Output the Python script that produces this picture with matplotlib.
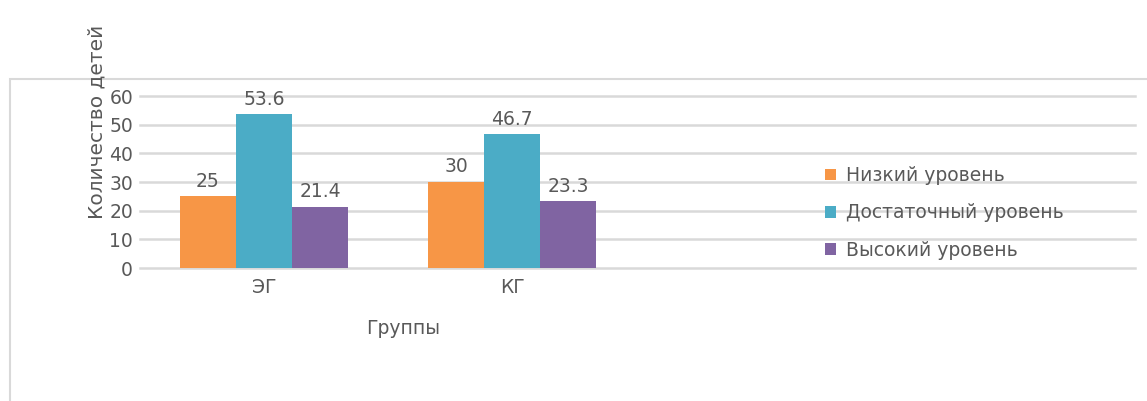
import matplotlib
matplotlib.use("Agg")
import matplotlib.pyplot as plt
import numpy as np
from matplotlib.patches import Rectangle

categories = ["ЭГ", "КГ"]
series_names = ["Низкий уровень", "Достаточный уровень", "Высокий уровень"]
low = [25, 30]
sufficient = [53.6, 46.7]
high = [21.4, 23.3]
colors = ["#F79646", "#4BACC6", "#8064A2"]
yticks = [0, 10, 20, 30, 40, 50, 60]

plt.rcParams['font.family'] = ['DejaVu Sans']
text_color = "#595959"
grid_color = "#D9D9D9"
fs = 13.5

W, H = 1147, 401
fig = plt.figure(figsize=(W / 100, H / 100), dpi=100)

# outer chart border
fig.patches.append(Rectangle((10 / W, -0.1), 1.2, (401 - 79) / H + 0.1,
                             transform=fig.transFigure, fill=False,
                             edgecolor=grid_color, linewidth=1.5))

ax = fig.add_axes([140 / W, 133 / H, 995 / W, 172 / H])
x = np.arange(len(categories))
bw = 0.226
series = [low, sufficient, high]
for i, (vals, name, c) in enumerate(zip(series, series_names, colors)):
    bars = ax.bar(x + (i - 1) * bw, vals, width=bw, color=c, label=name, zorder=3)
    for b, v in zip(bars, vals):
        ax.annotate(f"{v:g}", (b.get_x() + b.get_width() / 2, v),
                    xytext=(0, 4), textcoords="offset points",
                    ha="center", va="bottom", fontsize=fs, color=text_color)

ax.set_xlim(-0.5, -0.5 + 995 / 248)
ax.set_ylim(0, 60)
ax.set_yticks(yticks)
ax.set_xticks(x)
ax.set_xticklabels(categories)
ax.tick_params(axis='both', length=0, colors=text_color, labelsize=fs)
ax.tick_params(axis='y', pad=5)
ax.tick_params(axis='x', pad=7)
for s in ax.spines.values():
    s.set_visible(False)
ax.yaxis.grid(True, color=grid_color, linewidth=1.8, zorder=0)
for gl in ax.get_ygridlines():
    gl.set_clip_on(False)
ax.set_axisbelow(True)

fig.text(403 / W, (401 - 328) / H, "Группы", ha="center", va="center",
         fontsize=fs, color=text_color)
fig.text(97 / W, (401 - 122) / H, "Количество детей", rotation=90,
         ha="center", va="center", fontsize=14.5, color=text_color)

leg = ax.legend(loc="center left", bbox_to_anchor=(825 / W, (401 - 213) / H),
                bbox_transform=fig.transFigure, frameon=False,
                handlelength=0.6, handleheight=0.6, handletextpad=0.5,
                labelspacing=0.98, fontsize=13.5, borderpad=0, borderaxespad=0)
for t in leg.get_texts():
    t.set_color(text_color)

fig.savefig("out.png", dpi=100)
